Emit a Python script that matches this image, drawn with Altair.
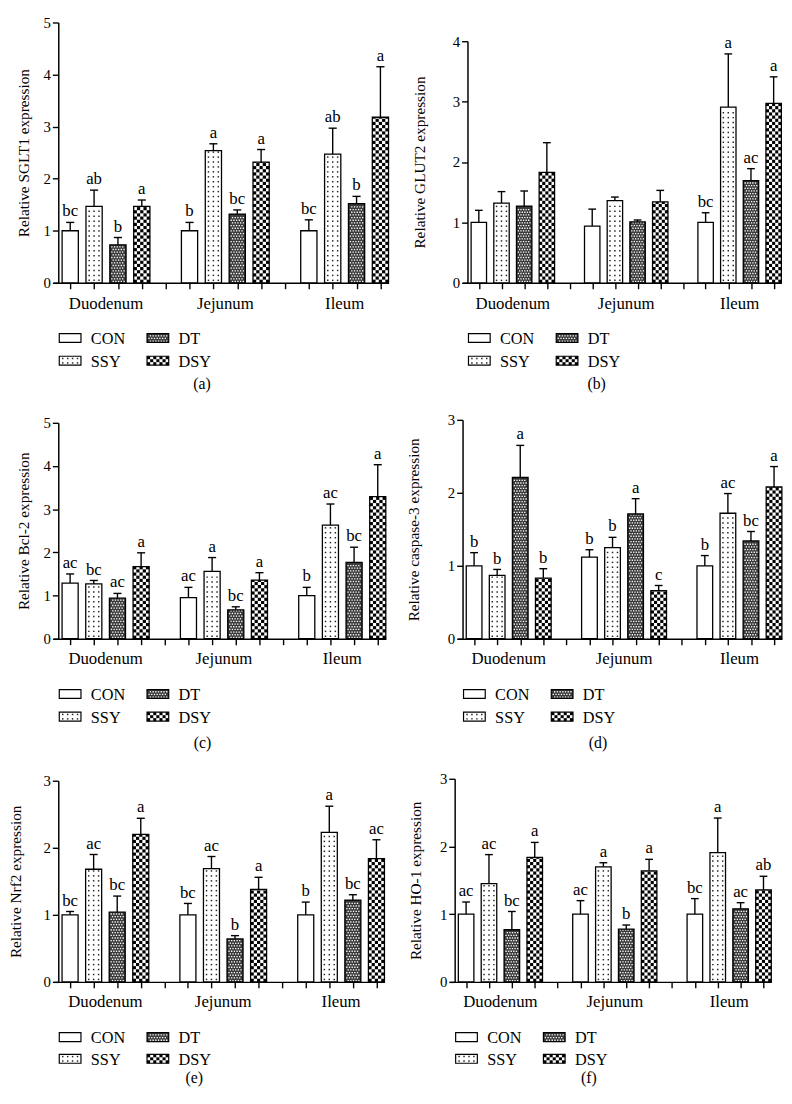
import altair as alt
import numpy as np
import pandas as pd

FONT = "Liberation Serif"
regions = ["Duodenum", "Jejunum", "Ileum"]
groups = ["CON", "SSY", "DT", "DSY"]

# ---- data (order: Duodenum CON,SSY,DT,DSY | Jejunum ... | Ileum ...)
sglt1_mean = [1.00, 1.47, 0.73, 1.47, 1.00, 2.54, 1.32, 2.32, 1.00, 2.47, 1.52, 3.18]
sglt1_top = [1.16, 1.78, 0.87, 1.59, 1.16, 2.67, 1.40, 2.56, 1.21, 2.97, 1.66, 4.15]
sglt1_sig = ["bc", "ab", "b", "a", "b", "a", "bc", "a", "bc", "ab", "b", "a"]

glut2_mean = [1.00, 1.32, 1.27, 1.83, 0.94, 1.36, 1.01, 1.34, 1.00, 2.91, 1.69, 2.97]
glut2_top = [1.20, 1.51, 1.52, 2.32, 1.22, 1.42, 1.04, 1.53, 1.16, 3.79, 1.89, 3.41]
glut2_sig = ["", "", "", "", "", "", "", "", "bc", "a", "ac", "a"]

bcl2_mean = [1.29, 1.27, 0.94, 1.67, 0.95, 1.56, 0.67, 1.36, 1.00, 2.63, 1.77, 3.29]
bcl2_top = [1.50, 1.35, 1.05, 1.99, 1.19, 1.88, 0.74, 1.53, 1.19, 3.12, 2.12, 4.03]
bcl2_sig = ["ac", "bc", "ac", "a", "ac", "a", "bc", "a", "b", "ac", "bc", "a"]

casp3_mean = [1.00, 0.87, 2.21, 0.83, 1.12, 1.25, 1.71, 0.66, 1.00, 1.72, 1.34, 2.08]
casp3_top = [1.18, 0.95, 2.65, 0.96, 1.22, 1.39, 1.92, 0.73, 1.14, 1.99, 1.47, 2.36]
casp3_sig = ["b", "b", "a", "b", "b", "b", "a", "c", "b", "ac", "bc", "a"]

nrf2_mean = [1.00, 1.68, 1.04, 2.20, 1.00, 1.69, 0.64, 1.38, 1.00, 2.23, 1.22, 1.84]
nrf2_top = [1.05, 1.90, 1.28, 2.44, 1.17, 1.87, 0.69, 1.56, 1.19, 2.62, 1.30, 2.12]
nrf2_sig = ["bc", "ac", "bc", "a", "bc", "ac", "b", "a", "b", "a", "bc", "ac"]

ho1_mean = [1.00, 1.45, 0.77, 1.84, 1.00, 1.70, 0.78, 1.64, 1.00, 1.91, 1.08, 1.36]
ho1_top = [1.18, 1.88, 1.04, 2.06, 1.20, 1.76, 0.84, 1.81, 1.23, 2.42, 1.17, 1.56]
ho1_sig = ["ac", "ac", "bc", "a", "ac", "a", "b", "a", "bc", "a", "ac", "ab"]

# ---- layout / style (page pixels)
HALF = 0.34
CAP = 0.17
EXT = 5                            # x-axis line overhang left of the y axis
DTGRAY = "#3a3a3a"
COLS = [8, 396]
COLW = 388
ROWS = [(8, 400), (400, 760), (760, 1090)]
ROW_TOP = [15, 418, 782]           # page y of the row's group origin
ROW_BOTTOM = [279, 640, 988]       # page y of the x axes
LEG_ROWS = [(335, 358), (696, 719), (1044, 1066)]
CAP_Y = [382, 746, 1086]
CAP_X = [196, 596]
LAB_OFF = [22, 21, 20]

panels = [
    dict(key="a", title="Relative SGLT1 expression", ymax=5, mean=sglt1_mean, top=sglt1_top, sig=sglt1_sig,
         step=24.2, X=50.3, Y=15, col=0, row=0, tp=12),
    dict(key="b", title="Relative GLUT2 expression", ymax=4, mean=glut2_mean, top=glut2_top, sig=glut2_sig,
         step=23.0, X=465, Y=34, col=1, row=0, tp=25),
    dict(key="c", title="Relative Bcl-2 expression", ymax=5, mean=bcl2_mean, top=bcl2_top, sig=bcl2_sig,
         step=24.0, X=49.7, Y=421, col=0, row=1, tp=12),
    dict(key="d", title="Relative caspase-3 expression", ymax=3, mean=casp3_mean, top=casp3_top, sig=casp3_sig,
         step=23.4, X=458.7, Y=418, col=1, row=1, tp=26),
    dict(key="e", title="Relative Nrf2 expression", ymax=3, mean=nrf2_mean, top=nrf2_top, sig=nrf2_sig,
         step=23.9, X=58, Y=784, col=0, row=2, tp=20),
    dict(key="f", title="Relative HO-1 expression", ymax=3, mean=ho1_mean, top=ho1_top, sig=ho1_sig,
         step=23.2, X=460, Y=782, col=1, row=2, tp=16),
]


def slot(i):
    return (i // 4) * 5 + (i % 4)


# ---- pattern generators (pixel space, origin bottom-left of a rectangle, y up)
def checker(wpx, hpx, ncol, ch):
    out = []
    cw = wpx / ncol
    nrow = int(np.ceil(hpx / ch - 1e-9))
    for rr in range(nrow):
        for cc in range(ncol):
            if (rr + cc) % 2 == 0:
                out.append((cc * cw, (cc + 1) * cw, rr * ch, min((rr + 1) * ch, hpx)))
    return out


def dots(wpx, hpx, xs, dy, y0):
    out = []
    y = y0
    while y <= hpx - 1.2:
        for x in xs:
            out.append((x, y))
        y += dy
    return out


def stagger(wpx, hpx, ncol, dy):
    out = []
    per = wpx / ncol
    rr = 0
    y = dy / 2
    while y <= hpx - 0.9:
        for cc in range(ncol + 1):
            x = (cc + 0.25 + 0.5 * (rr % 2)) * per
            if 0.7 < x < wpx - 0.7:
                out.append((x, y))
        rr += 1
        y += dy
    return out


def panel_chart(p):
    step, ymax = p["step"], p["ymax"]
    col, row = p["col"], p["row"]
    GX = p["X"] - EXT                 # page x of the group origin
    origin = ROW_TOP[row]
    Hrow = ROW_BOTTOM[row] - origin
    top_off = p["Y"] - origin
    W = 13.84 * step + EXT
    Hpx = Hrow - top_off
    ux, uy = 1.0 / step, ymax / Hpx
    wpx = 2 * HALF * step

    # local pixel (relative to the y axis / plot top) -> data units
    def dx(px):
        return -0.5 + px / step

    def dy_(py):
        return ymax * (Hrow - py) / Hpx

    n = len(p["mean"])
    bars = pd.DataFrame({
        "region": [regions[i // 4] for i in range(n)],
        "group": [groups[i % 4] for i in range(n)],
        "ri": [i // 4 for i in range(n)],
        "gi": [i % 4 for i in range(n)],
        "mean": p["mean"],
        "top": p["top"],
        "sig": p["sig"],
    })

    chk, sdots, tdots = [], [], []
    for i, v in enumerate(p["mean"]):
        g = groups[i % 4]
        left = slot(i) - HALF
        vpx = v / uy
        if g == "DSY":
            for (a, b, c, d) in checker(wpx, vpx, 5, 3.2):
                chk.append({"x0": left + a * ux, "x1": left + b * ux, "y0": c * uy, "y1": d * uy})
        elif g == "SSY":
            for (a, c) in dots(wpx, vpx, [wpx / 2 - 5, wpx / 2, wpx / 2 + 5], 5, 2.5):
                sdots.append({"x": left + a * ux, "y": c * uy})
        elif g == "DT":
            for (a, c) in stagger(wpx, vpx, 6, 2.7):
                tdots.append({"x": left + a * ux, "y": c * uy})

    r1, r2 = LEG_ROWS[row]
    r1, r2 = r1 - origin, r2 - origin
    bx = {"CON": (1, r1), "DT": (90, r1), "SSY": (1, r2), "DSY": (90, r2)}
    bw, bh = 22, 9
    leg_boxes = pd.DataFrame([
        {"name": k, "x0": dx(x0), "x1": dx(x0 + bw), "y0": dy_(c + bh / 2), "y1": dy_(c - bh / 2)}
        for k, (x0, c) in bx.items()
    ])
    x0, c = bx["DSY"]
    for (a, b, cc, d) in checker(bw, bh, 7, 3.0):
        chk.append({"x0": dx(x0 + a), "x1": dx(x0 + b), "y0": dy_(c + bh / 2 - cc), "y1": dy_(c + bh / 2 - d)})
    x0, c = bx["SSY"]
    for (a, cc) in dots(bw, bh, [3.5, 8.5, 13.5, 18.5], 4.5, 2.25):
        sdots.append({"x": dx(x0 + a), "y": dy_(c + bh / 2 - cc)})
    x0, c = bx["DT"]
    for (a, cc) in stagger(bw, bh, 8, 2.7):
        tdots.append({"x": dx(x0 + a), "y": dy_(c + bh / 2 - cc)})
    leg_txt_df = pd.DataFrame([
        {"name": k, "x": dx(x0 + 32), "y": dy_(c + 1)} for k, (x0, c) in bx.items()
    ])

    chk = pd.DataFrame(chk)
    sdots = pd.DataFrame(sdots)
    tdots = pd.DataFrame(tdots)

    xs = alt.Scale(domain=[-0.5 - EXT / step, 13.34], nice=False, zero=False)
    ys = alt.Scale(domain=[0, ymax], range=[Hrow, top_off], nice=False, zero=False)

    xaxis = alt.Axis(values=list(range(14)), labels=False, title=None, grid=False,
                     tickSize=6, tickWidth=1.4, tickColor="black",
                     domainColor="black", domainWidth=1.5)
    yaxis = alt.Axis(values=list(range(ymax + 1)), format="d", title=p["title"], grid=False,
                     offset=-EXT,
                     tickSize=6, tickWidth=1.4, tickColor="black",
                     domainColor="black", domainWidth=1.5,
                     labelFont=FONT, labelFontSize=15, labelColor="black", labelPadding=2,
                     titleFont=FONT, titleFontSize=15.5, titleFontWeight="normal",
                     titleColor="black", titlePadding=p["tp"])

    def X_(f):
        return alt.X(f, scale=xs, axis=xaxis)

    def Y_(f):
        return alt.Y(f, scale=ys, axis=yaxis)

    base = alt.Chart(bars).transform_calculate(
        x="datum.ri * 5 + datum.gi"
    ).transform_calculate(
        x0=f"datum.x - {HALF}", x1=f"datum.x + {HALF}",
        c0=f"datum.x - {CAP}", c1=f"datum.x + {CAP}", zero="0"
    )
    fill_scale = alt.Scale(domain=groups, range=["white", "white", DTGRAY, "white"])

    fill = base.mark_rect(strokeWidth=0).encode(
        x=X_("x0:Q"), x2="x1", y=Y_("mean:Q"), y2="zero",
        fill=alt.Fill("group:N", scale=fill_scale, legend=None),
    )
    leg_fill = alt.Chart(leg_boxes).mark_rect(strokeWidth=0).encode(
        x=X_("x0:Q"), x2="x1", y=Y_("y0:Q"), y2="y1",
        fill=alt.Fill("name:N", scale=fill_scale, legend=None))
    dt_layer = alt.Chart(tdots).mark_square(size=1.8, color="white", opacity=1).encode(
        x=X_("x:Q"), y=Y_("y:Q"))
    ssy_layer = alt.Chart(sdots).mark_square(size=2.2, color="#222222", opacity=1).encode(
        x=X_("x:Q"), y=Y_("y:Q"))
    chk_layer = alt.Chart(chk).mark_rect(color="black", strokeWidth=0).encode(
        x=X_("x0:Q"), x2="x1", y=Y_("y0:Q"), y2="y1")
    outline = base.mark_rect(fillOpacity=0, stroke="black", strokeWidth=1.3).encode(
        x=X_("x0:Q"), x2="x1", y=Y_("mean:Q"), y2="zero")
    leg_out = alt.Chart(leg_boxes).mark_rect(fillOpacity=0, stroke="black", strokeWidth=1.2).encode(
        x=X_("x0:Q"), x2="x1", y=Y_("y0:Q"), y2="y1")
    err = base.mark_rule(color="black", strokeWidth=1.4).encode(
        x=X_("x:Q"), y=Y_("mean:Q"), y2="top")
    cap = base.mark_rule(color="black", strokeWidth=1.4).encode(
        x=X_("c0:Q"), x2="c1", y=Y_("top:Q"))
    letters = base.mark_text(baseline="alphabetic", dy=-6, fontSize=17, font=FONT, color="black").encode(
        x=X_("x:Q"), y=Y_("top:Q"), text="sig:N")

    lab_df = pd.DataFrame({"region": regions, "ri": [0, 1, 2]})
    labels = alt.Chart(lab_df).transform_calculate(xc="datum.ri * 5 + 1.5").mark_text(
        fontSize=17, font=FONT, baseline="middle", color="black").encode(
        x=X_("xc:Q"), y=alt.value(Hrow + LAB_OFF[row]), text="region:N")

    leg_txt = alt.Chart(leg_txt_df).mark_text(align="left", baseline="middle", fontSize=16.5,
                                              font=FONT, color="black").encode(
        x=X_("x:Q"), y=Y_("y:Q"), text="name:N")

    caption = alt.Chart(pd.DataFrame({"t": [f"({p['key']})"]})).mark_text(
        fontSize=16, font=FONT, baseline="middle", color="black").encode(
        x=alt.value(CAP_X[col] - GX), y=alt.value(CAP_Y[row] - origin), text="t:N")

    ry0, ry1 = ROWS[row]
    spacer = alt.Chart(pd.DataFrame({"s": [0]})).mark_rule(opacity=0, strokeWidth=1).encode(
        x=alt.value(COLS[col] - GX), x2=alt.value(COLS[col] + COLW - GX),
        y=alt.value(ry0 - origin), y2=alt.value(ry1 - origin))

    return alt.layer(fill, leg_fill, dt_layer, ssy_layer, chk_layer, outline, leg_out, err, cap, letters,
                     labels, leg_txt, caption, spacer).properties(width=W, height=Hrow)


charts = [panel_chart(p) for p in panels]
chart = alt.vconcat(
    alt.hconcat(charts[0], charts[1], spacing=0),
    alt.hconcat(charts[2], charts[3], spacing=0),
    alt.hconcat(charts[4], charts[5], spacing=0),
    spacing=0,
).properties(padding=0).configure_view(strokeWidth=0).configure_axis(
    labelFont=FONT, titleFont=FONT
).configure_text(font=FONT)

chart.save("out.html", embed_options={"renderer": "svg", "actions": False})
